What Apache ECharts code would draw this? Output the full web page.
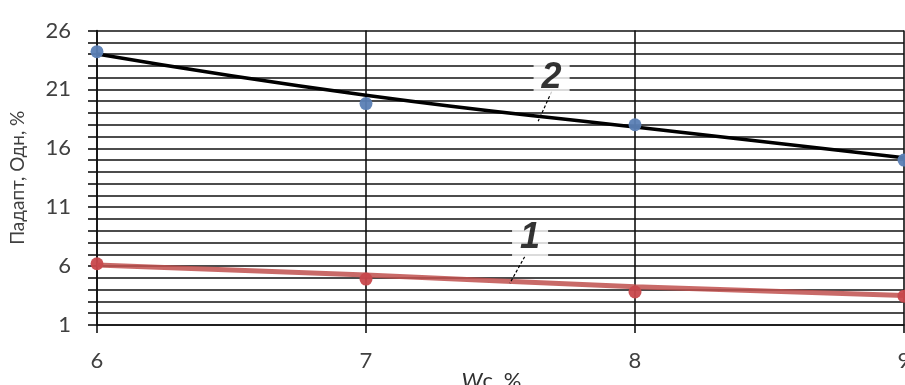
<!DOCTYPE html>
<html>
<head>
<meta charset="utf-8">
<script src="https://cdn.jsdelivr.net/npm/echarts@6/dist/echarts.min.js"></script>
<style>html,body{margin:0;padding:0;background:#fff}#c{width:905px;height:385px}</style>
</head>
<body>
<div id="c"></div>
<script>
const xs = [6, 7, 8, 9];
const points2 = [24.2, 19.8, 18.0, 15.0];
const trend2 = [24.0, 20.5, 17.8, 15.2];
const points1 = [6.2, 4.9, 3.8, 3.45];
const trend1 = [6.1, 5.25, 4.25, 3.5];
const yTickLabels = [1, 6, 11, 16, 21, 26];
const label2 = { text: '2', pos: [7.69, 22.0], leader: [[7.69, 20.8], [7.64, 18.3]] };
const label1 = { text: '1', pos: [7.61, 8.35], leader: [[7.59, 6.8], [7.535, 4.55]] };

const pairs = (ys) => xs.map((x, i) => [x, ys[i]]);
const font = 'Lato, "Open Sans", sans-serif';

const chart = echarts.init(document.getElementById('c'), null, { renderer: 'canvas' });
chart.setOption({
  animation: false,
  backgroundColor: '#fff',
  grid: { left: 97, right: 1, top: 30.5, bottom: 60, containLabel: false, outerBoundsMode: 'none' },
  xAxis: {
    type: 'value', min: 6, max: 9, interval: 1,
    axisLine: { show: true, onZero: false, lineStyle: { color: '#111', width: 1.6 } },
    axisTick: { show: true, length: 8, lineStyle: { color: '#111', width: 1.6 } },
    splitLine: { show: true, lineStyle: { color: '#111', width: 1.6 } },
    axisLabel: { fontSize: 22, color: '#404040', margin: 25, fontFamily: font },
    name: '{w|W}{n|c, %}', nameLocation: 'middle', nameGap: 45, nameMoveOverlap: false,
    nameTextStyle: {
      padding: [0, 18, 0, 0],
      rich: {
        w: { fontStyle: 'italic', fontSize: 22, color: '#303030', fontFamily: font },
        n: { fontSize: 22, color: '#303030', fontFamily: font }
      }
    }
  },
  yAxis: {
    type: 'value', min: 1, max: 26, interval: 1,
    axisLine: { show: true, onZero: false, lineStyle: { color: '#111', width: 1.6 } },
    axisTick: { show: true, length: 9, lineStyle: { color: '#111', width: 1.6 } },
    splitLine: { show: true, lineStyle: { color: '#111', width: 1.6 } },
    axisLabel: {
      fontSize: 22, color: '#404040', margin: 26, fontFamily: font,
      formatter: (v) => yTickLabels.includes(v) ? String(v) : ''
    },
    name: 'Падапт, Одн, %', nameLocation: 'middle', nameGap: 70, nameMoveOverlap: false,
    nameTextStyle: { fontSize: 19, color: '#404040', fontFamily: font }
  },
  series: [
    {
      type: 'line', data: pairs(trend2), smooth: true, symbol: 'none', z: 3,
      lineStyle: { color: '#000', width: 3.5 }
    },
    {
      type: 'line', data: pairs(trend1), smooth: true, symbol: 'none', z: 3,
      lineStyle: { color: '#c0504d', width: 5, opacity: 0.85 }
    },
    {
      type: 'scatter', data: pairs(points2), symbol: 'circle', symbolSize: 13, z: 4,
      itemStyle: { color: '#5b7fb5', opacity: 0.95 }
    },
    {
      type: 'scatter', data: pairs(points1), symbol: 'circle', symbolSize: 13, z: 4,
      itemStyle: { color: '#c8484c', opacity: 0.95 }
    },
    {
      type: 'line', data: label2.leader, symbol: 'none', z: 5,
      lineStyle: { color: '#000', width: 1.2, type: [3, 2] }
    },
    {
      type: 'line', data: label1.leader, symbol: 'none', z: 5,
      lineStyle: { color: '#000', width: 1.2, type: [3, 2] }
    },
    {
      type: 'scatter', symbolSize: 0, z: 6,
      data: [
        { value: label2.pos, label: { formatter: label2.text } },
        { value: label1.pos, label: { formatter: label1.text } }
      ],
      label: {
        show: true, position: 'inside', fontSize: 36, fontStyle: 'italic', fontWeight: 'bold',
        color: '#000', fontFamily: '"Liberation Sans", Arial, sans-serif',
        backgroundColor: '#fff', padding: [0, 8, 0, 8]
      }
    }
  ]
});
</script>
</body>
</html>
